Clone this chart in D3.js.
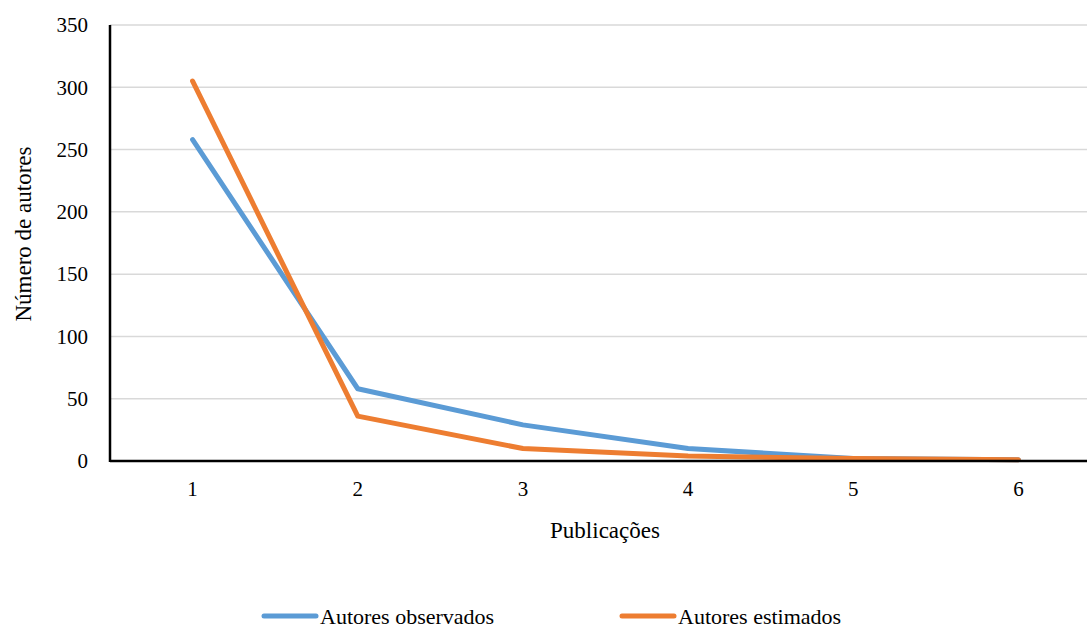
<!DOCTYPE html>
<html>
<head>
<meta charset="utf-8">
<script src="https://cdn.jsdelivr.net/npm/d3@7"></script>
<style>
  body { margin: 0; background: #fff; }
  svg { display: block; }
  svg text { fill: #000; }
</style>
</head>
<body>
<div id="chart"></div>
<script>
/* Publicações x número de autores (observados vs estimados) */

const publicacoes = [1, 2, 3, 4, 5, 6];
const observados = [258, 58, 29, 10, 2, 1];
const estimados = [305, 36, 10, 4, 2, 1];
const yTicks = [0, 50, 100, 150, 200, 250, 300, 350];

const width = 1087,
      height = 628,
      margin = ({ top: 25, right: -14, bottom: 167, left: 110 });

const serif = "'Liberation Serif', 'Times New Roman', serif";

let svg = d3.select("#chart")
    .append("svg")
    .attr("width", width)
    .attr("height", height)
    .attr("viewBox", [0, 0, width, height])
    .style("font-family", serif);

/* band scale so the points sit in the middle of each category */
const x = d3.scaleBand()
    .domain(publicacoes)
    .range([margin.left, width - margin.right]);

const y = d3.scaleLinear()
    .domain([0, 350])
    .range([height - margin.bottom, margin.top]);

const cx = d => x(d) + x.bandwidth() / 2;

/* gridlines */
svg.append("g")
    .selectAll("line")
    .data(yTicks.filter(d => d > 0))
    .join("line")
    .attr("x1", margin.left)
    .attr("x2", width - margin.right)
    .attr("y1", d => y(d))
    .attr("y2", d => y(d))
    .attr("stroke", "#d9d9d9")
    .attr("stroke-width", 1.5);

/* y axis labels */
const yAxis = g => g
    .attr("transform", `translate(${margin.left}, 0)`)
    .call(d3.axisLeft(y).tickValues(yTicks).tickSize(0).tickPadding(22))
    .call(g => g.select(".domain").remove())
    .call(g => g.selectAll("text").attr("font-size", 21).style("font-family", serif));

/* x axis labels */
const xAxis = g => g
    .attr("transform", `translate(0, ${y(0)})`)
    .call(d3.axisBottom(x).tickSize(0).tickPadding(20))
    .call(g => g.select(".domain").remove())
    .call(g => g.selectAll("text").attr("font-size", 21).style("font-family", serif));

svg.append("g").call(yAxis);
svg.append("g").call(xAxis);

/* series lines */
const line = d3.line()
    .x((d, i) => cx(publicacoes[i]))
    .y(d => y(d));

const series = [
    { name: "Autores observados", values: observados, color: "#5b9bd5" },
    { name: "Autores estimados", values: estimados, color: "#ed7d31" }
];

svg.append("g")
    .selectAll("path")
    .data(series)
    .join("path")
    .attr("d", d => line(d.values))
    .attr("fill", "none")
    .attr("stroke", d => d.color)
    .attr("stroke-width", 5)
    .attr("stroke-linejoin", "round")
    .attr("stroke-linecap", "round");

/* axis lines, drawn on top */
svg.append("line")
    .attr("x1", margin.left).attr("x2", margin.left)
    .attr("y1", y(350)).attr("y2", y(0) + 1)
    .attr("stroke", "#000").attr("stroke-width", 2.5);

svg.append("line")
    .attr("x1", margin.left).attr("x2", width - margin.right)
    .attr("y1", y(0)).attr("y2", y(0))
    .attr("stroke", "#000").attr("stroke-width", 2.5);

/* axis titles */
svg.append("text")
    .attr("x", 605)
    .attr("y", 538)
    .attr("text-anchor", "middle")
    .attr("font-size", 23)
    .text("Publicações");

svg.append("text")
    .attr("transform", "translate(31, 234) rotate(-90)")
    .attr("text-anchor", "middle")
    .attr("font-size", 23)
    .text("Número de autores");

/* legend */
const legendX = [262, 620];
const legend = svg.append("g")
    .selectAll("g")
    .data(series)
    .join("g")
    .attr("transform", (d, i) => `translate(${legendX[i]}, 616)`);

legend.append("line")
    .attr("x1", 2).attr("x2", 54)
    .attr("stroke", d => d.color)
    .attr("stroke-width", 5)
    .attr("stroke-linecap", "round");

legend.append("text")
    .attr("x", 58)
    .attr("dy", "0.35em")
    .attr("font-size", 22)
    .text(d => d.name);
</script>
</body>
</html>
